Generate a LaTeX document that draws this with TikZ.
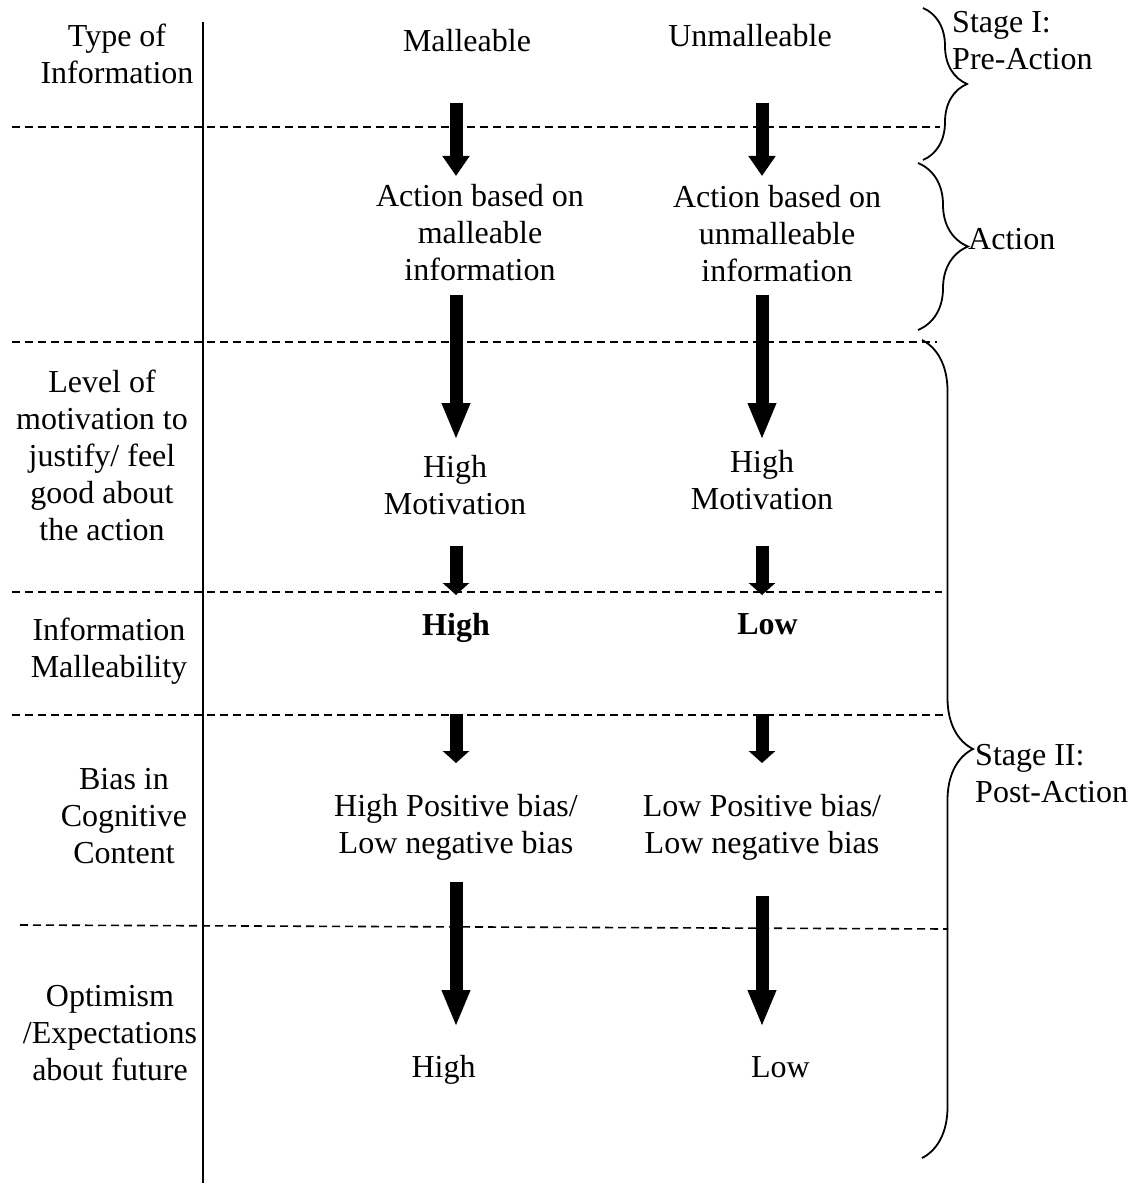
\documentclass[tikz,border=0pt]{standalone}
\usepackage{fontspec}
\setmainfont{Liberation Serif}
\usetikzlibrary{arrows.meta,decorations.pathreplacing}

\begin{document}
\begin{tikzpicture}[x=1pt,y=-1pt,
  every node/.style={inner sep=0pt,align=center,font=\fontsize{32}{37}\selectfont},
  divider/.style={line width=1.6pt,dash pattern=on 8pt off 5pt},
  fatarrow/.style={line width=13pt,-{Triangle[width=26pt,length=#1]}},
  fatarrow/.default=37pt,
  stagebrace/.style={line width=1.8pt,decorate,decoration={brace,amplitude=#1}}]
\useasboundingbox (0,0) rectangle (1147,1185);

% dashed dividers and the left rule
\draw[divider] (12,127) -- (940,127);
\draw[divider] (12,342) -- (937,342);
\draw[divider] (12,592) -- (942,592);
\draw[divider] (12,715) -- (944,715);
\draw[divider] (20,925) -- (948,929);
\draw[line width=1.6pt] (203,22) -- (203,1183);

% row labels
\node (typeinfo) at (117,54) {Type of\\Information};
\node (motiv) at (102,455.5) {Level of\\motivation to\\justify/ feel\\good about\\the action};
\node (malleab) at (109,651) {Information\\Malleability};
\node (biascog) at (124,816) {Bias in\\Cognitive\\Content};
\node (optim) at (110,1033) {Optimism\\/Expectations\\about future};

% malleable column
\node (mall) at (467,41) {Malleable};
\node (actA) at (480,232.5) {Action based on\\malleable\\information};
\node (motA) at (455,485.5) {High\\Motivation};
\node (malA) at (456,627.5) {\textbf{High}};
\node (biasA) at (456,827) {High Positive bias/\\Low negative bias};
\node (optA) at (443.5,1070) {High};

% unmalleable column
\node (unmall) at (750,36) {Unmalleable};
\node (actB) at (777,234) {Action based on\\unmalleable\\information};
\node (motB) at (762,480) {High\\Motivation};
\node (malB) at (767.5,624) {\textbf{Low}};
\node (biasB) at (762,827) {Low Positive bias/\\Low negative bias};
\node (optB) at (780.5,1067) {Low};

% stages
\node[anchor=west,align=left] (stageone) at (952,41) {Stage I:\\Pre-Action};
\node[anchor=west] (actlbl) at (968,239) {Action};
\node[anchor=west,align=left] (stagetwo) at (975,774) {Stage II:\\Post-Action};
\draw[stagebrace=44pt] (923,8) -- (923,160);
\draw[stagebrace=50pt] (918,163) -- (918,330);
\draw[stagebrace=51pt] (922,340) -- (922,1158);

% arrow ends
\foreach \c/\x in {A/456,B/762}{
  \coordinate (\c1s) at (\x,103); \coordinate (\c1e) at (\x,176);
  \coordinate (\c2s) at (\x,295); \coordinate (\c2e) at (\x,440);
  \coordinate (\c3s) at (\x,546); \coordinate (\c3e) at (\x,595);
  \coordinate (\c4s) at (\x,714); \coordinate (\c4e) at (\x,763);
  \coordinate (\c5e) at (\x,1027);
}
\coordinate (A5s) at (456,882);
\coordinate (B5s) at (762,896);

\foreach \c in {A,B}{
  \draw[fatarrow=20pt] (\c1s) -- (\c1e);
  \draw[fatarrow] (\c2s) -- (\c2e);
  \draw[fatarrow=12pt] (\c3s) -- (\c3e);
  \draw[fatarrow=12pt] (\c4s) -- (\c4e);
  \draw[fatarrow] (\c5s) -- (\c5e);
}
\end{tikzpicture}
\end{document}
